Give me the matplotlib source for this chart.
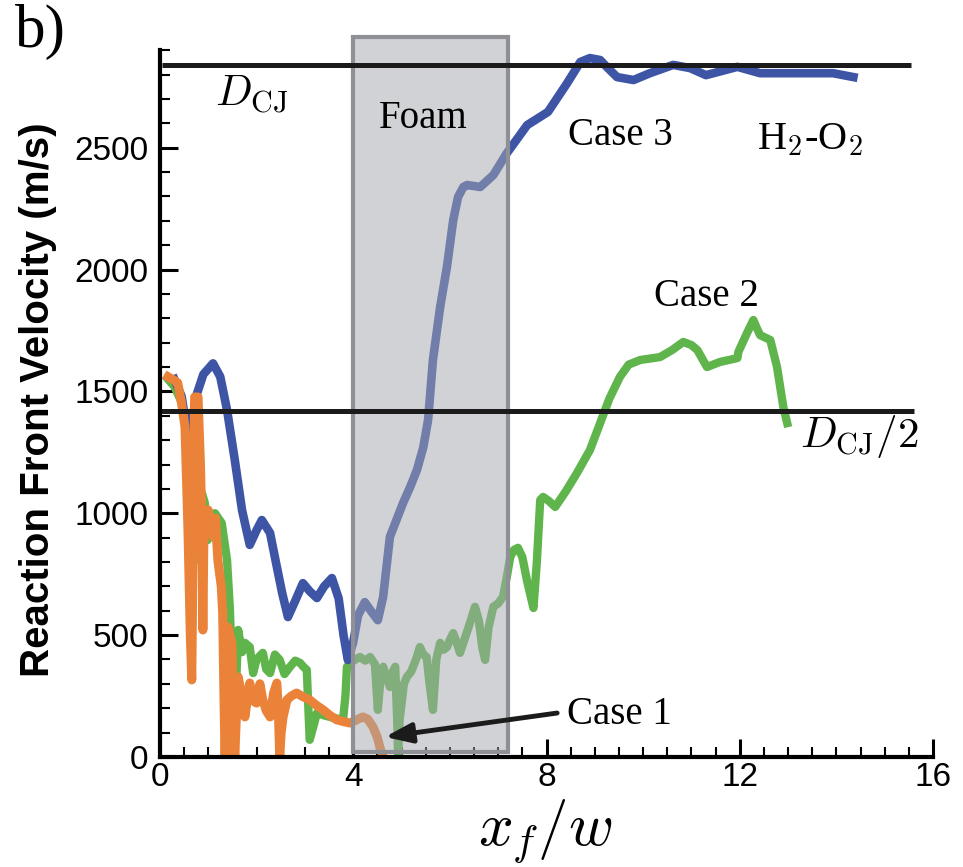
import matplotlib
matplotlib.use("Agg")
import matplotlib.pyplot as plt
from matplotlib.patches import Rectangle
from matplotlib.ticker import MultipleLocator

# ---------------- data ----------------
case3_x = [0.3, 0.45, 0.6, 0.75, 0.9, 1.1, 1.25, 1.39, 1.55, 1.7, 1.86, 2.0, 2.11, 2.28, 2.4,
           2.53, 2.65, 2.8, 2.96, 3.1, 3.25, 3.4, 3.56, 3.7, 3.8, 3.89, 4.0, 4.1, 4.24, 4.4,
           4.51, 4.62, 4.76, 5.03, 5.18, 5.32, 5.45, 5.55, 5.65, 5.8, 5.94, 6.07, 6.17, 6.28,
           6.36, 6.63, 6.9, 7.18, 7.6, 8.03, 8.43, 8.7, 8.9, 9.11, 9.25, 9.46, 9.8, 10.14,
           10.62, 10.97, 11.3, 11.95, 12.42, 13.25, 13.93, 14.35]
case3_v = [1550, 1480, 1290, 1480, 1570, 1615, 1560, 1424, 1219, 1013, 870, 930, 972, 919, 800,
           673, 574, 640, 713, 680, 652, 700, 734, 650, 500, 398, 470, 580, 635, 590,
           561, 657, 903, 1041, 1108, 1178, 1270, 1383, 1629, 1847, 2011, 2203, 2298, 2339,
           2347, 2339, 2388, 2478, 2593, 2647, 2766, 2852, 2868, 2860, 2831, 2790, 2778, 2806,
           2840, 2827, 2798, 2832, 2806, 2806, 2806, 2790]

case2_x = [0.17, 0.3, 0.46, 0.58, 0.72, 0.79, 0.87, 0.93, 0.99, 1.06, 1.14, 1.28, 1.39, 1.45,
           1.5, 1.53, 1.56, 1.62, 1.7, 1.76, 1.86, 1.93, 2.0, 2.13, 2.2, 2.28, 2.38, 2.48,
           2.58, 2.69, 2.8, 2.9, 2.97, 3.04, 3.1, 3.17, 3.25, 3.4, 3.52, 3.65, 3.79, 3.84,
           3.87, 3.93, 4.05, 4.14, 4.25, 4.35, 4.45, 4.51, 4.57, 4.62, 4.7, 4.76, 4.82, 4.87,
           4.91, 4.93, 4.96, 5.05, 5.11, 5.2, 5.3, 5.38, 5.45, 5.52, 5.58, 5.65, 5.72, 5.8,
           5.87, 5.94, 6.0, 6.07, 6.14, 6.21, 6.3, 6.4, 6.52, 6.6, 6.67, 6.73, 6.8, 6.9, 7.0,
           7.1, 7.18, 7.25, 7.33, 7.41, 7.5, 7.6, 7.73, 7.8, 7.87, 7.93, 8.05, 8.18, 8.4,
           8.63, 8.9, 9.11, 9.3, 9.52, 9.7, 9.94, 10.15, 10.35, 10.6, 10.83, 11.0, 11.12,
           11.32, 11.59, 11.8, 11.95, 11.97, 12.15, 12.28, 12.35, 12.42, 12.63, 12.77, 12.9,
           12.98]
case2_v = [1550, 1520, 1452, 1290, 1013, 810, 1083, 1042, 890, 960, 1000, 960, 808, 603,
           300, 0, 200, 521, 430, 468, 451, 344, 400, 427, 360, 344, 420, 398,
           340, 369, 395, 386, 370, 357, 70, 120, 180, 170, 164, 158, 152, 250,
           369, 385, 400, 410, 395, 410, 380, 193, 330, 370, 320, 287, 350, 370,
           150, 0, 150, 300, 328, 350, 400, 451, 420, 410, 300, 193, 400, 468,
           440, 451, 480, 508, 470, 427, 480, 540, 616, 560, 450, 398, 530, 616, 630,
           657, 740, 821, 850, 858, 820, 720, 611, 800, 1054, 1067, 1050, 1026, 1090,
           1165, 1260, 1370, 1470, 1560, 1610, 1629, 1635, 1641, 1670, 1703, 1690, 1670,
           1600, 1621, 1630, 1637, 1662, 1740, 1793, 1760, 1731, 1711, 1600, 1436,
           1370]

case1_x = [0.17, 0.3, 0.37, 0.45, 0.52, 0.58, 0.63, 0.66, 0.69, 0.72, 0.79, 0.84, 0.87, 0.89,
           0.91, 0.93, 1.0, 1.05, 1.1, 1.15, 1.2, 1.27, 1.3, 1.33, 1.35, 1.38, 1.41, 1.45,
           1.49, 1.52, 1.55, 1.58, 1.62, 1.7, 1.76, 1.82, 1.86, 1.93, 2.0, 2.07, 2.13, 2.2,
           2.28, 2.35, 2.42, 2.45, 2.48, 2.51, 2.55, 2.63, 2.72, 2.83, 2.95, 3.1, 3.25, 3.38,
           3.52, 3.66, 3.8, 3.93, 4.05, 4.2, 4.3, 4.41, 4.5, 4.55, 4.62]
case1_v = [1560, 1545, 1535, 1450, 1354, 944, 500, 316, 900, 1477, 1477, 1200, 944, 521,
           900, 1013, 1013, 950, 903, 980, 808, 700, 591, 200, 0, 300, 533, 500,
           468, 200, 0, 150, 328, 250, 164, 250, 303, 230, 221, 300, 234, 190,
           164, 260, 303, 200, 0, 100, 164, 234, 250, 262, 248, 234, 210, 193,
           170, 152, 145, 139, 150, 164, 155, 123, 80, 41, 0]

D_CJ = 2840
foam_x = [4.0, 7.2]
x_ticks = [0, 4, 8, 12, 16]
y_ticks = [0, 500, 1000, 1500, 2000, 2500]

# ---------------- figure ----------------
plt.rcParams['mathtext.fontset'] = 'cm'
fig = plt.figure(figsize=(9.63, 8.67), dpi=100)
ax = fig.add_axes([0.166, 0.127, 0.803, 0.815])

col_blue = '#3e55a6'
col_green = '#5fb54c'
col_orange = '#ea8339'

ax.plot(case2_x, case2_v, color=col_green, lw=6.0, zorder=2, solid_joinstyle='round')
ax.plot(case3_x, case3_v, color=col_blue, lw=6.2, zorder=2.1, solid_joinstyle='round')
ax.plot(case1_x, case1_v, color=col_orange, lw=6.5, zorder=2.2, solid_joinstyle='round')

# foam region
ax.add_patch(Rectangle((foam_x[0], 20), foam_x[1] - foam_x[0], 2935,
                       facecolor=(0.647, 0.655, 0.686), alpha=0.5, edgecolor='none',
                       zorder=3, clip_on=False))
ax.add_patch(Rectangle((foam_x[0], 20), foam_x[1] - foam_x[0], 2935,
                       fill=False, edgecolor='#8f9095', lw=3, zorder=3.1, clip_on=False))

# CJ lines
ax.plot([0.05, 15.55], [D_CJ, D_CJ], color='#1b1b1b', lw=3.6, zorder=4, solid_capstyle='butt')
ax.plot([0.0, 15.6], [D_CJ / 2, D_CJ / 2], color='#1b1b1b', lw=3.6, zorder=4,
        solid_capstyle='butt', clip_on=False)

ax.set_xlim(0, 16)
ax.set_ylim(0, 2900)

for s in ['top', 'right']:
    ax.spines[s].set_visible(False)
for s in ['left', 'bottom']:
    ax.spines[s].set_linewidth(3)
    ax.spines[s].set_zorder(5)

ax.set_xticks(x_ticks)
ax.set_yticks(y_ticks)
ax.xaxis.set_minor_locator(MultipleLocator(0.5))
ax.yaxis.set_minor_locator(MultipleLocator(100))
ax.tick_params(which='major', direction='in', length=13, width=2.2, pad=8,
               labelsize=24, labelfontfamily='Liberation Sans')
ax.tick_params(axis='x', which='major', pad=4)
ax.tick_params(which='minor', direction='in', length=7, width=1.5)
ax.tick_params(axis='y', which='both', left=True, right=False)
ax.tick_params(axis='x', which='both', bottom=True, top=False)

ax.set_ylabel('Reaction Front Velocity (m/s)', fontsize=29, fontweight='bold',
              family='Liberation Sans')
ax.yaxis.label.set_va('center')
ax.yaxis.set_label_coords(-0.157, 0.505)
ax.set_xlabel(r'$x_f/w$', fontsize=44)
ax.xaxis.label.set_va('center')
ax.xaxis.set_label_coords(0.498, -0.106)

serif = 'Liberation Serif'
ax.text(1.14, 2716, r'$D_{\rm CJ}$', fontsize=31, ha='left', va='center')
ax.text(13.25, 1313, r'$D_{\rm CJ}/2$', fontsize=31, ha='left', va='center')
ax.text(5.45, 2622, 'Foam', fontsize=28, family=serif, ha='center', va='center', zorder=6)
ax.text(9.52, 2552, 'Case 3', fontsize=28, family=serif, ha='center', va='center')
ax.text(13.46, 2532, r'H$_2$-O$_2$', fontsize=29, family=serif, ha='center', va='center')
ax.text(11.3, 1888, 'Case 2', fontsize=28, family=serif, ha='center', va='center')
ax.text(8.43, 172, 'Case 1', fontsize=28, family=serif, ha='left', va='center')
ax.annotate('', xy=(4.66, 82), xytext=(8.22, 180),
            arrowprops=dict(arrowstyle='-|>,head_length=1.6,head_width=0.6',
                            color='#1b1b1b', lw=3.5, shrinkA=0, shrinkB=0), zorder=6)

fig.text(0.016, 0.963, 'b)', fontsize=44, family=serif, ha='left', va='center')

fig.savefig('out.png', dpi=100)
